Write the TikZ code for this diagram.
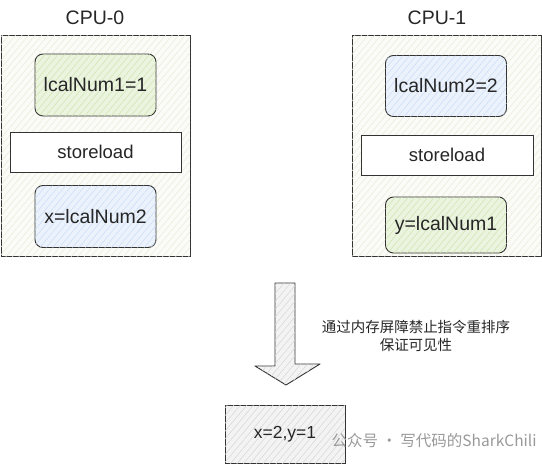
\documentclass[tikz,border=0pt]{standalone}
\usepackage{fontspec}
\setmainfont{Liberation Sans}
\newfontfamily\cjk{Noto Sans CJK SC}
\usetikzlibrary{patterns.meta}
\definecolor{lineC}{HTML}{333333}
\definecolor{outerF}{HTML}{FBFBF7}
\definecolor{outerH}{HTML}{EAEADB}
\definecolor{greenF}{HTML}{EBF4DF}
\definecolor{greenH}{HTML}{CFE4B0}
\definecolor{blueF}{HTML}{EBF2FC}
\definecolor{blueH}{HTML}{CADDF5}
\definecolor{greyF}{HTML}{F3F3F3}
\definecolor{greyH}{HTML}{D6D6D6}
\tikzset{
  hatch/.style={postaction={pattern={Lines[angle=50, distance=5pt, line width=0.5pt]}, pattern color=#1}},
  cpubox/.style={draw=lineC, line width=0.9pt, fill=outerF, hatch=outerH, minimum width=189pt, minimum height=221pt, inner sep=0pt},
  valbox/.style={draw=lineC, line width=0.9pt, rounded corners=8pt, minimum width=121pt, minimum height=62pt, inner sep=0pt, font=\fontsize{19.5}{22}\selectfont, text=black!85},
  greenbox/.style={valbox, fill=greenF, hatch=greenH},
  bluebox/.style={valbox, fill=blueF, hatch=blueH},
  barrier/.style={draw=lineC, line width=0.9pt, fill=white, minimum width=171pt, minimum height=40pt, inner sep=0pt, font=\fontsize{18.5}{22}\selectfont, text=black!85},
  title/.style={font=\fontsize{19.5}{22}\selectfont, text=black!85},
  resbox/.style={draw=lineC, line width=0.9pt, fill=greyF, hatch=greyH, minimum width=120pt, minimum height=58pt, inner sep=0pt, font=\fontsize{17.5}{22}\selectfont, text=black!85},
  note/.style={font=\cjk\fontsize{14.5}{18}\selectfont, align=center, text=black!85},
  wm/.style={font=\cjk\fontsize{15.5}{18}\selectfont, text=black!40}
}
\begin{document}
\begin{tikzpicture}[x=1pt, y=-1pt]
\useasboundingbox (0,0) rectangle (542,466);
% CPU-0
\node[title] (t0) at (95,18) {CPU-0};
\node[cpubox] (cpu0) at (95.5,145.5) {};
\node[greenbox] (a0) at (95.5,85) {lcalNum1=1};
\node[barrier] (s0) at (95.5,152) {storeload};
\node[bluebox] (b0) at (95.5,216.5) {x=lcalNum2};
% CPU-1
\node[title] (t1) at (437,18) {CPU-1};
\node[cpubox] (cpu1) at (446.5,145.5) {};
\node[bluebox, minimum height=61pt] (a1) at (446,86) {lcalNum2=2};
\node[barrier, minimum width=172pt] (s1) at (447,155) {storeload};
\node[greenbox, minimum height=56pt] (b1) at (446,225) {y=lcalNum1};
% arrow
\draw[draw=lineC, line width=0.9pt, fill=greyF, hatch=greyH, line join=round]
  (275,283) -- (295,283) -- (295,364) -- (320,364) -- (286,385) -- (255,366) -- (275,366) -- cycle;
\node[note] (n) at (416,336) {通过内存屏障禁止指令重排序\\保证可见性};
% result
\node[resbox] (r) at (285,434) {x=2,y=1};
\node[wm, anchor=west] (w) at (328,441) {公众号 · 写代码的SharkChili};
\end{tikzpicture}
\end{document}
